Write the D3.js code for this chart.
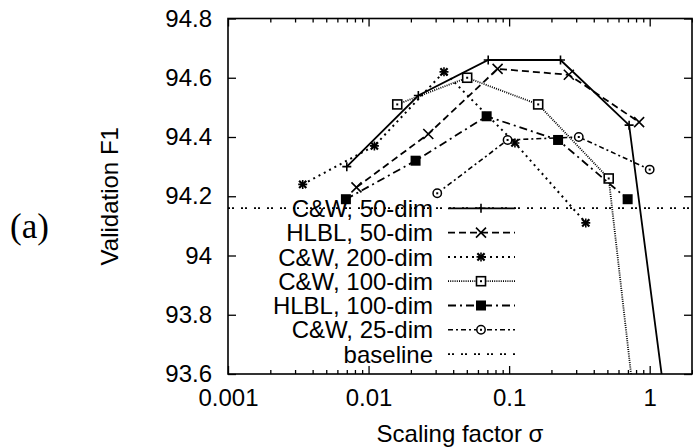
<!DOCTYPE html>
<html>
<head>
<meta charset="utf-8">
<script src="https://cdn.jsdelivr.net/npm/d3@7"></script>
<style>
  body { margin: 0; background: #fff; }
  svg { display: block; }
  text { font-family: "Liberation Sans", Arial, Helvetica, sans-serif; fill: #000; }
</style>
</head>
<body>
<div id="wrapper"></div>
<script>
// data
const cw50Sigma = [0.007, 0.0226, 0.071, 0.232, 0.714, 2.26]
const cw50F1 = [94.30, 94.54, 94.66, 94.66, 94.44, 92.62]
const hlbl50Sigma = [0.0082, 0.0266, 0.0828, 0.266, 0.841]
const hlbl50F1 = [94.23, 94.41, 94.63, 94.61, 94.45]
const cw200Sigma = [0.0034, 0.011, 0.0344, 0.110, 0.351]
const cw200F1 = [94.24, 94.37, 94.62, 94.38, 94.11]
const cw100Sigma = [0.016, 0.0503, 0.161, 0.511, 1.62]
const cw100F1 = [94.51, 94.60, 94.51, 94.26, 92.18]
const hlbl100Sigma = [0.0069, 0.0216, 0.0692, 0.223, 0.697]
const hlbl100F1 = [94.19, 94.32, 94.47, 94.39, 94.19]
const cw25Sigma = [0.0308, 0.0975, 0.313, 1.0]
const cw25F1 = [94.21, 94.39, 94.40, 94.29]
const baselineF1 = 94.16

const seriesNames = ["C&W, 50-dim", "HLBL, 50-dim", "C&W, 200-dim", "C&W, 100-dim", "HLBL, 100-dim", "C&W, 25-dim", "baseline"]
const xTicks = [0.001, 0.01, 0.1, 1]
const xTickLabels = ["0.001", "0.01", "0.1", "1"]
const yTicks = [93.6, 93.8, 94, 94.2, 94.4, 94.6, 94.8]
const yTickLabels = ["93.6", "93.8", "94", "94.2", "94.4", "94.6", "94.8"]

const zip = (xs, ys) => xs.map((s, i) => ({ s, f: ys[i] }))

const series = [
  { name: seriesNames[0], data: zip(cw50Sigma, cw50F1), dash: null, marker: "plus", width: 1.8 },
  { name: seriesNames[1], data: zip(hlbl50Sigma, hlbl50F1), dash: "7,4", marker: "cross", width: 1.8 },
  { name: seriesNames[2], data: zip(cw200Sigma, cw200F1), dash: "2,4", marker: "star", width: 2 },
  { name: seriesNames[3], data: zip(cw100Sigma, cw100F1), dash: "1,1.2", marker: "box", width: 1.8 },
  { name: seriesNames[4], data: zip(hlbl100Sigma, hlbl100F1), dash: "8,4,2,4", marker: "fbox", width: 1.8 },
  { name: seriesNames[5], data: zip(cw25Sigma, cw25F1), dash: "5,3,2,3", marker: "circle", width: 1.6 },
]

// dimensions
const width = 693
const height = 448
const plot = { left: 228, right: 692, top: 18.5, bottom: 374 }

const svg = d3.select("#wrapper")
  .append("svg")
  .attr("width", width)
  .attr("height", height)

svg.append("defs")
  .append("clipPath")
  .attr("id", "plotClip")
  .append("rect")
  .attr("x", plot.left)
  .attr("y", plot.top)
  .attr("width", plot.right - plot.left)
  .attr("height", plot.bottom - plot.top)

// scales
const xScale = d3.scaleLog().domain([0.001, 2]).range([plot.left, plot.right])
const yScale = d3.scaleLinear().domain([93.6, 94.8]).range([plot.bottom, plot.top])

// axes (gnuplot style: inward ticks, mirrored)
const minorTicks = []
for (let e = -3; e <= 0; e++) {
  for (let m = 2; m <= 9; m++) {
    const v = m * Math.pow(10, e)
    if (v <= 2) minorTicks.push(v)
  }
}

const styleAxis = (g) => {
  g.select(".domain").remove()
  g.selectAll(".tick line").attr("stroke", "#000").attr("stroke-width", 1.3)
  g.selectAll(".tick text").style("font-size", "24px").attr("fill", "#000")
}

svg.append("g")
  .attr("transform", `translate(0,${plot.bottom})`)
  .call(d3.axisBottom(xScale).tickValues(xTicks)
    .tickFormat((d, i) => xTickLabels[i]).tickSize(-8).tickPadding(15))
  .call(styleAxis)

svg.append("g")
  .attr("transform", `translate(0,${plot.bottom})`)
  .call(d3.axisBottom(xScale).tickValues(minorTicks).tickFormat("").tickSize(-4))
  .call(styleAxis)

svg.append("g")
  .attr("transform", `translate(0,${plot.top})`)
  .call(d3.axisTop(xScale).tickValues(xTicks).tickFormat("").tickSize(-8))
  .call(styleAxis)

svg.append("g")
  .attr("transform", `translate(0,${plot.top})`)
  .call(d3.axisTop(xScale).tickValues(minorTicks).tickFormat("").tickSize(-4))
  .call(styleAxis)

svg.append("g")
  .attr("transform", `translate(${plot.left},0)`)
  .call(d3.axisLeft(yScale).tickValues(yTicks)
    .tickFormat((d, i) => yTickLabels[i]).tickSize(-8).tickPadding(16))
  .call(styleAxis)

svg.append("g")
  .attr("transform", `translate(${plot.right},0)`)
  .call(d3.axisRight(yScale).tickValues(yTicks).tickFormat("").tickSize(-8))
  .call(styleAxis)

// frame
svg.append("rect")
  .attr("x", plot.left)
  .attr("y", plot.top)
  .attr("width", plot.right - plot.left)
  .attr("height", plot.bottom - plot.top)
  .attr("fill", "none")
  .attr("stroke", "#000")
  .attr("stroke-width", 1.6)

// axis labels
svg.append("text")
  .text("Scaling factor σ")
  .attr("x", (plot.left + plot.right) / 2)
  .attr("y", 442)
  .attr("text-anchor", "middle")
  .style("font-size", "24px")

svg.append("text")
  .text("Validation F1")
  .attr("transform", `translate(118,${(plot.top + plot.bottom) / 2}) rotate(-90)`)
  .attr("text-anchor", "middle")
  .style("font-size", "24px")

svg.append("text")
  .text("(a)")
  .attr("x", 10)
  .attr("y", 238)
  .style("font-family", "'Liberation Serif', 'Times New Roman', serif")
  .style("font-size", "35px")

// markers
function drawMarker(g, type, cx, cy) {
  const r = 4.5
  if (type === "plus" || type === "star") {
    g.append("path")
      .attr("d", `M${cx - r},${cy}H${cx + r}M${cx},${cy - r}V${cy + r}`)
      .attr("stroke", "#000").attr("stroke-width", 1.6)
  }
  if (type === "cross" || type === "star") {
    const k = type === "star" ? 3.6 : 5
    g.append("path")
      .attr("d", `M${cx - k},${cy - k}L${cx + k},${cy + k}M${cx - k},${cy + k}L${cx + k},${cy - k}`)
      .attr("stroke", "#000").attr("stroke-width", type === "star" ? 2.2 : 1.6)
  }
  if (type === "box") {
    g.append("rect")
      .attr("x", cx - 4.5).attr("y", cy - 4.5).attr("width", 9).attr("height", 9)
      .attr("fill", "#fff").attr("stroke", "#000").attr("stroke-width", 1.6)
    g.append("rect")
      .attr("x", cx - 1).attr("y", cy - 1).attr("width", 2).attr("height", 2).attr("fill", "#000")
  }
  if (type === "fbox") {
    g.append("rect")
      .attr("x", cx - 5).attr("y", cy - 5).attr("width", 10).attr("height", 10).attr("fill", "#000")
  }
  if (type === "circle") {
    g.append("circle")
      .attr("cx", cx).attr("cy", cy).attr("r", 4.2)
      .attr("fill", "#fff").attr("stroke", "#000").attr("stroke-width", 1.5)
    g.append("rect")
      .attr("x", cx - 1).attr("y", cy - 1).attr("width", 2).attr("height", 2).attr("fill", "#000")
  }
}

// data lines
const lineGenerator = d3.line()
  .x((d) => xScale(d.s))
  .y((d) => yScale(d.f))

const plotArea = svg.append("g").attr("clip-path", "url(#plotClip)")

// baseline
plotArea.append("line")
  .attr("x1", xScale(0.001))
  .attr("x2", xScale(2))
  .attr("y1", yScale(baselineF1))
  .attr("y2", yScale(baselineF1))
  .attr("stroke", "#000")
  .attr("stroke-width", 1.8)
  .attr("stroke-dasharray", "2,2,2,7")

series.forEach((sr) => {
  plotArea.append("path")
    .datum(sr.data)
    .attr("d", lineGenerator)
    .attr("fill", "none")
    .attr("stroke", "#000")
    .attr("stroke-width", sr.width)
    .attr("stroke-dasharray", sr.dash)
  const mg = plotArea.append("g")
  sr.data.forEach((d) => drawMarker(mg, sr.marker, xScale(d.s), yScale(d.f)))
})

// legend
const legend = svg.append("g")
const legendRowY = (i) => 208.3 + i * 24.3
const legendStyles = series.map((sr) => ({ dash: sr.dash, marker: sr.marker, width: sr.width }))
legendStyles.push({ dash: "2,2,2,7", marker: null, width: 1.8 })

seriesNames.forEach((name, i) => {
  const yy = legendRowY(i)
  legend.append("text")
    .text(name)
    .attr("x", 433)
    .attr("y", yy)
    .attr("dy", "0.36em")
    .attr("text-anchor", "end")
    .style("font-size", "24px")
  legend.append("line")
    .attr("x1", 448).attr("x2", 515)
    .attr("y1", yy).attr("y2", yy)
    .attr("stroke", "#000")
    .attr("stroke-width", legendStyles[i].width)
    .attr("stroke-dasharray", legendStyles[i].dash)
  if (legendStyles[i].marker) drawMarker(legend, legendStyles[i].marker, 481, yy)
})
</script>
</body>
</html>
